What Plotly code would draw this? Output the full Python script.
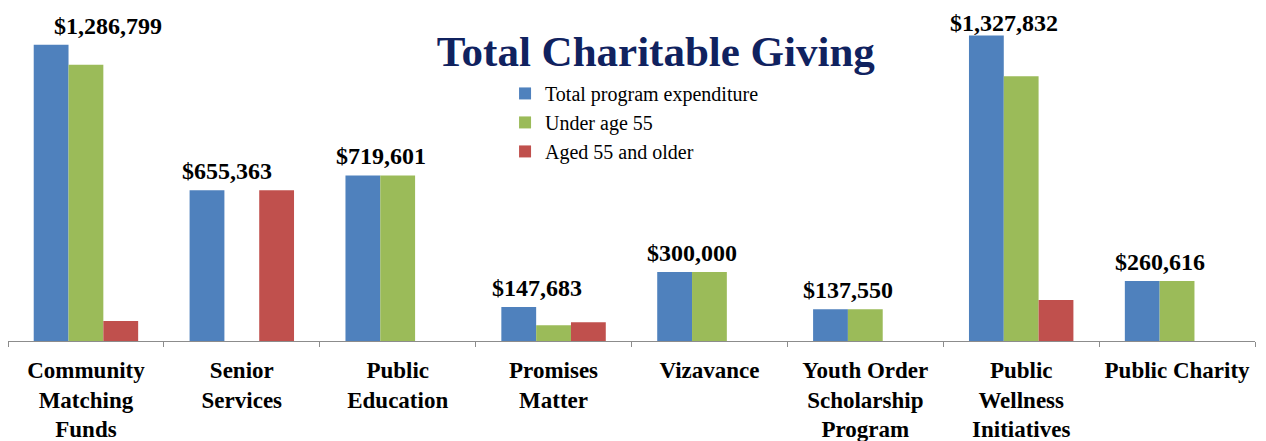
import plotly.graph_objects as go

categories = [
    "Community<br>Matching<br>Funds",
    "Senior<br>Services",
    "Public<br>Education",
    "Promises<br>Matter",
    "Vizavance",
    "Youth Order<br>Scholarship<br>Program",
    "Public<br>Wellness<br>Initiatives",
    "Public Charity",
]
total_expenditure = [1286799, 655363, 719601, 147683, 300000, 137550, 1327832, 260616]
under_55 = [1200000, 0, 719601, 68000, 300000, 137550, 1150000, 260616]
aged_55_older = [87000, 655363, 0, 82000, 0, 0, 178000, 0]

series_names = ["Total program expenditure", "Under age 55", "Aged 55 and older"]
colors = ["#4F81BD", "#9BBB59", "#C0504D"]

serif = "Liberation Serif, Times New Roman, serif"

fig = go.Figure()
for name, vals, col in zip(series_names, [total_expenditure, under_55, aged_55_older], colors):
    fig.add_trace(go.Bar(x=categories, y=vals, name=name, marker_color=col,
                         marker_line_width=0, hoverinfo="skip"))

# value labels above the total bars (sit over the blue/green pair)
label_xshift = [22, -15, -17, -17, -17, -17, -17, -17]
label_yshift = [4, 4, 4, 4, 4, 4, -3, 4]
for cat, v, dx, dy in zip(categories, total_expenditure, label_xshift, label_yshift):
    fig.add_annotation(x=cat, y=v, xref="x", yref="y", text="${:,}".format(v),
                       showarrow=False, yanchor="bottom", xshift=dx, yshift=dy,
                       font=dict(family=serif, size=24, color="black", weight="bold"))

# the page body has an 8px margin, so the figure is sized to fit the window
fig.update_layout(
    width=1258, height=433,
    margin=dict(l=0, r=11, t=0, b=100, autoexpand=False),
    paper_bgcolor="white", plot_bgcolor="white",
    barmode="group", bargap=0.33, bargroupgap=0,
    title=dict(text="<b>Total Charitable Giving</b>", x=0.515, xanchor="center",
               y=0.90, yanchor="middle",
               font=dict(family=serif, size=43, color="#10225f")),
    legend=dict(x=0.3986, y=0.802, xanchor="left", yanchor="top",
                font=dict(family=serif, size=20, color="black"),
                bgcolor="rgba(0,0,0,0)", itemwidth=30, tracegroupgap=0),
    xaxis=dict(showline=True, linecolor="#8c8c8c", linewidth=1, automargin=False,
               ticks="outside", tickson="boundaries", ticklen=5, tickcolor="#8c8c8c",
               ticklabelstandoff=8,
               tickfont=dict(family=serif, size=23, color="black", weight="bold"),
               tickangle=0, showgrid=False),
    yaxis=dict(visible=False, range=[0, 1446900], showgrid=False, automargin=False),
    font=dict(family=serif),
)

fig.write_html("out.html")
